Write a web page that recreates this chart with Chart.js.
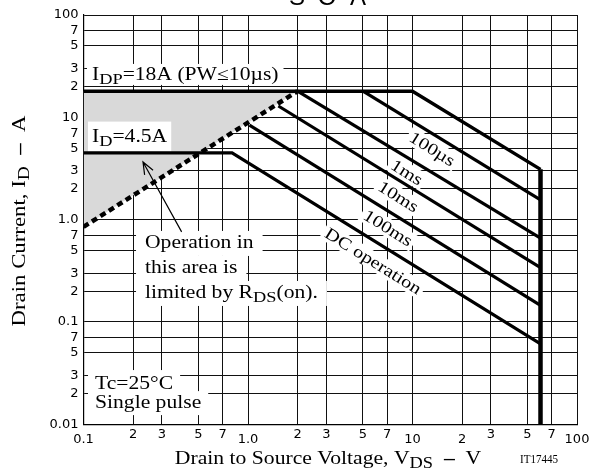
<!DOCTYPE html>
<html>
<head>
<meta charset="utf-8">
<script src="https://cdn.jsdelivr.net/npm/chart.js@4.4.1/dist/chart.umd.min.js"></script>
<style>
  html, body { margin: 0; padding: 0; background: #fff; }
  #wrap { width: 602px; height: 473px; position: relative; }
</style>
</head>
<body>
<div id="wrap"><canvas id="soa"></canvas></div>
<script>
// axis ticks
const xTicks = [0.1, 0.2, 0.3, 0.5, 0.7, 1, 2, 3, 5, 7, 10, 20, 30, 50, 70, 100];
const xTickLabels = ['0.1', '2', '3', '5', '7', '1.0', '2', '3', '5', '7', '10', '2', '3', '5', '7', '100'];
const xLowLabels = [0.1, 1, 10, 20, 100];
const yTicks = [0.01, 0.02, 0.03, 0.05, 0.07, 0.1, 0.2, 0.3, 0.5, 0.7, 1, 2, 3, 5, 7, 10, 20, 30, 50, 70, 100];
const yTickLabels = ['0.01', '2', '3', '5', '7', '0.1', '2', '3', '5', '7', '1.0', '2', '3', '5', '7', '10', '2', '3', '5', '7', '100'];

// limit lines, [VDS (V), ID (A)]
const idpLine = [[0.1, 18], [10, 18], [60, 3.1]];
const pw100us = [[5, 18], [60, 1.56]];
const pw1ms = [[2, 18], [60, 0.66]];
const pw10ms = [[1.53, 12.9], [60, 0.34]];
const pw100ms = [[1.02, 8.4], [60, 0.145]];
const dcLine = [[0.1, 4.5], [0.8, 4.5], [60, 0.061]];
const vdssLine = [[60, 3.1], [60, 0.01]];
const rdsLine = [[0.1, 0.85], [2, 18]];
const shadeTop = [[0.1, 18], [2, 18]];

// text notes, anchored in data coords (left edge, baseline)
const notes = [
  { v: 0.1126, a: 23.2, parts: [['I'], ['DP', 1], ['=18A (PW≤10µs)']], box: [-16, 5], pad: 5 },
  { v: 0.1126, a: 5.79, parts: [['I'], ['D', 1], ['=4.5A']], box: [-20, 10], pad: 4 },
  { v: 0.2366, a: 0.529, parts: [['Operation in']], box: [-17, 8], pad: 9 },
  { v: 0.2366, a: 0.301, parts: [['this area is']], box: [-17, 8], pad: 9 },
  { v: 0.2366, a: 0.1717, parts: [['limited by R'], ['DS', 1], ['(on).']], box: [-17, 8], pad: 9 },
  { v: 0.1175, a: 0.0221, parts: [['Tc=25°C']], box: [-19, 7], pad: 7 },
  { v: 0.1175, a: 0.0144, parts: [['Single pulse']], box: [-17, 7], pad: 7 }
];
const curveNotes = [
  { v: 13.2, a: 4.9, text: '100µs' },
  { v: 9.25, a: 2.9, text: '1ms' },
  { v: 8.2, a: 1.68, text: '10ms' },
  { v: 7.1, a: 0.83, text: '100ms' },
  { v: 5.77, a: 0.395, text: 'DC operation' }
];
const arrowTail = [0.395, 0.759];
const arrowTip = [0.23, 3.66];

const SERIF = '"Liberation Serif", "Times New Roman", serif';
const STRETCH = 1.2;

function pts(arr) {
  return arr.map(([x, y]) => ({ x, y }));
}

// part flags: 1 = subscript, 2 = bold dash
function partFont(flag, size) {
  if (flag === 1) return (size * 0.85) + 'px ' + SERIF;
  if (flag === 2) return 'bold ' + size + 'px ' + SERIF;
  return size + 'px ' + SERIF;
}

function measureRich(ctx, parts, size) {
  return parts.map(([t, flag]) => {
    ctx.font = partFont(flag, size);
    return ctx.measureText(t).width;
  });
}

// draws text with subscripts, origin at (0,0) baseline
function drawRich(ctx, parts, size, align, stretch) {
  const widths = measureRich(ctx, parts, size);
  const total = widths.reduce((s, w) => s + w, 0);
  ctx.save();
  ctx.scale(stretch, 1);
  ctx.textBaseline = 'alphabetic';
  ctx.textAlign = 'left';
  ctx.fillStyle = '#000';
  let cx = align === 'center' ? -total / 2 : 0;
  parts.forEach(([t, flag], i) => {
    ctx.font = partFont(flag, size);
    ctx.fillText(t, cx, flag === 1 ? 4 : 0);
    cx += widths[i];
  });
  ctx.restore();
  return total * stretch;
}

function drawNotes(chart) {
  const ctx = chart.ctx;
  const sx = chart.scales.x, sy = chart.scales.y;
  ctx.save();
  notes.forEach(n => {
    const x = sx.getPixelForValue(n.v), y = sy.getPixelForValue(n.a);
    const w = measureRich(ctx, n.parts, 18).reduce((s, v) => s + v, 0) * STRETCH;
    ctx.fillStyle = '#fff';
    ctx.fillRect(x - n.pad, y + n.box[0], w + n.pad * 2, n.box[1] - n.box[0]);
    ctx.save();
    ctx.translate(x, y);
    drawRich(ctx, n.parts, 18, 'left', STRETCH);
    ctx.restore();
  });
  const ang = 32 * Math.PI / 180;
  curveNotes.forEach(n => {
    const x = sx.getPixelForValue(n.v), y = sy.getPixelForValue(n.a);
    const w = measureRich(ctx, [[n.text]], 17)[0] * STRETCH;
    ctx.save();
    ctx.translate(x, y);
    ctx.rotate(ang);
    ctx.fillStyle = '#fff';
    ctx.fillRect(-w / 2 - 3, -9, w + 6, 18);
    ctx.translate(0, 5.5);
    drawRich(ctx, [[n.text]], 17, 'center', STRETCH);
    ctx.restore();
  });
  // arrow to the shaded area
  const tx = sx.getPixelForValue(arrowTail[0]), ty = sy.getPixelForValue(arrowTail[1]);
  const hx = sx.getPixelForValue(arrowTip[0]), hy = sy.getPixelForValue(arrowTip[1]);
  const a = Math.atan2(ty - hy, tx - hx);
  ctx.strokeStyle = '#000';
  ctx.lineWidth = 1.2;
  ctx.beginPath();
  ctx.moveTo(tx, ty);
  ctx.lineTo(hx, hy);
  ctx.moveTo(hx + 13 * Math.cos(a - 0.38), hy + 13 * Math.sin(a - 0.38));
  ctx.lineTo(hx, hy);
  ctx.lineTo(hx + 13 * Math.cos(a + 0.38), hy + 13 * Math.sin(a + 0.38));
  ctx.stroke();
  ctx.restore();
}

const notesPlugin = {
  id: 'soaNotes',
  afterDatasetDraw(chart, args) {
    if (args.index === 0) drawNotes(chart);
  },
  afterDraw(chart) {
    const ctx = chart.ctx;
    ctx.save();
    // y title
    ctx.translate(25, 221);
    ctx.rotate(-Math.PI / 2);
    drawRich(ctx, [['Drain Current, I'], ['D', 1], ['  '], ['–', 2], ['  A']], 19, 'center', STRETCH);
    ctx.restore();
    ctx.save();
    ctx.translate(328, 463.5);
    drawRich(ctx, [['Drain to Source Voltage, V'], ['DS', 1], ['  '], ['–', 2], ['  V']], 19, 'center', 1.14);
    ctx.restore();
    ctx.save();
    ctx.translate(520, 463);
    drawRich(ctx, [['IT17445']], 13, 'left', 0.85);
    ctx.restore();
    // cropped graph title
    ctx.save();
    ctx.fillStyle = '#000';
    ctx.font = '24px "Liberation Sans", Arial, sans-serif';
    ctx.textAlign = 'center';
    ctx.textBaseline = 'alphabetic';
    [['S', 297], ['O', 327], ['A', 358]].forEach(([t, x]) => ctx.fillText(t, x, 5));
    ctx.restore();
  }
};

const lineStyle = { borderColor: '#000', borderWidth: 3.2, pointRadius: 0, fill: false, tension: 0, borderJoinStyle: 'miter', borderCapStyle: 'butt' };

new Chart(document.getElementById('soa'), {
  type: 'line',
  data: {
    datasets: [
      { data: pts(shadeTop), borderWidth: 0, pointRadius: 0, backgroundColor: '#d9d9d9', fill: 1, order: 10 },
      { ...lineStyle, data: pts(rdsLine), borderWidth: 4.5, borderDash: [6, 4] },
      { ...lineStyle, data: pts(idpLine), borderWidth: 3.5 },
      { ...lineStyle, data: pts(pw100us) },
      { ...lineStyle, data: pts(pw1ms) },
      { ...lineStyle, data: pts(pw10ms) },
      { ...lineStyle, data: pts(pw100ms) },
      { ...lineStyle, data: pts(dcLine) },
      { ...lineStyle, data: pts(vdssLine), borderWidth: 4.5 }
    ]
  },
  options: {
    responsive: true,
    maintainAspectRatio: false,
    animation: false,
    layout: { padding: { top: 15, right: 25, left: 0, bottom: 0 } },
    plugins: { legend: { display: false }, tooltip: { enabled: false }, title: { display: false } },
    scales: {
      x: {
        type: 'logarithmic',
        min: 0.1,
        max: 100,
        afterBuildTicks: s => { s.ticks = xTicks.map(v => ({ value: v })); },
        afterFit: s => { s.height = 48.7; },
        ticks: {
          autoSkip: false, maxRotation: 0, minRotation: 0, padding: 7, color: '#000',
          font: { family: '"DejaVu Sans", sans-serif', size: 13, lineHeight: 0.45 },
          callback: (v, i) => xLowLabels.includes(v) ? ['', xTickLabels[i]] : xTickLabels[i]
        },
        grid: { color: '#111', lineWidth: 1, drawTicks: false },
        border: { display: true, color: '#000', width: 1.2 }
      },
      y: {
        type: 'logarithmic',
        min: 0.01,
        max: 100,
        afterBuildTicks: s => { s.ticks = yTicks.map(v => ({ value: v })); },
        afterFit: s => { s.width = 83.5; },
        ticks: {
          autoSkip: false, padding: 5, color: '#000',
          font: { family: '"DejaVu Sans", sans-serif', size: 13 },
          callback: (v, i) => yTickLabels[i]
        },
        grid: { color: '#111', lineWidth: 1, drawTicks: false },
        border: { display: true, color: '#000', width: 1.2 }
      }
    }
  },
  plugins: [notesPlugin]
});
</script>
</body>
</html>
